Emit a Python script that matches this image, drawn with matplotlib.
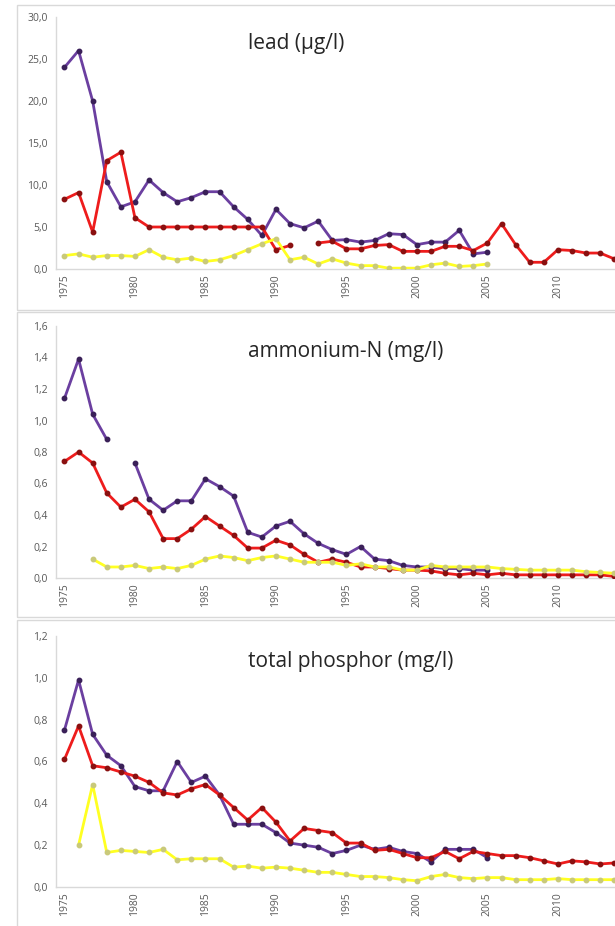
import matplotlib
matplotlib.use("Agg")
import matplotlib.pyplot as plt
from matplotlib.patches import Rectangle
from matplotlib.ticker import FuncFormatter
import numpy as np

nan = np.nan
years = np.arange(1975, 2015)

# lead (ug/l)
lead_purple = [24.0, 26.0, 20.0, 10.4, 7.4, 8.0, 10.6, 9.1, 8.0, 8.5,
               9.2, 9.2, 7.4, 5.9, 4.0, 7.1, 5.4, 4.9, 5.7, 3.4,
               3.5, 3.2, 3.4, 4.2, 4.1, 2.9, 3.2, 3.2, 4.6, 1.8,
               2.0, nan, nan, nan, nan, nan, nan, nan, nan, nan]
lead_red = [8.3, 9.1, 4.4, 12.9, 13.9, 6.1, 5.0, 5.0, 5.0, 5.0,
            5.0, 5.0, 5.0, 5.0, 5.0, 2.3, 2.8, nan, 3.1, 3.3,
            2.4, 2.4, 2.8, 2.9, 2.1, 2.1, 2.1, 2.7, 2.7, 2.2,
            3.1, 5.4, 2.9, 0.8, 0.8, 2.3, 2.2, 1.9, 1.9, 1.2]
lead_yellow = [1.6, 1.8, 1.4, 1.6, 1.6, 1.5, 2.3, 1.4, 1.1, 1.3,
               0.9, 1.1, 1.6, 2.3, 3.0, 3.6, 1.1, 1.4, 0.6, 1.2,
               0.7, 0.4, 0.4, 0.1, 0.1, 0.1, 0.5, 0.7, 0.3, 0.4,
               0.6, nan, nan, nan, nan, nan, nan, nan, nan, nan]

# ammonium-N (mg/l)
amm_purple = [1.14, 1.39, 1.04, 0.88, nan, 0.73, 0.50, 0.43, 0.49, 0.49,
              0.63, 0.58, 0.52, 0.29, 0.26, 0.33, 0.36, 0.28, 0.22, 0.18,
              0.15, 0.20, 0.12, 0.11, 0.08, 0.07, 0.07, 0.06, 0.06, 0.05,
              0.05, nan, nan, nan, nan, nan, nan, nan, nan, nan]
amm_red = [0.74, 0.80, 0.73, 0.54, 0.45, 0.50, 0.42, 0.25, 0.25, 0.31,
           0.39, 0.33, 0.27, 0.19, 0.19, 0.24, 0.21, 0.15, 0.10, 0.12,
           0.10, 0.07, 0.07, 0.06, 0.05, 0.05, 0.045, 0.03, 0.02, 0.03,
           0.02, 0.03, 0.02, 0.02, 0.02, 0.02, 0.02, 0.02, 0.02, 0.01]
amm_yellow = [nan, nan, 0.12, 0.07, 0.07, 0.08, 0.06, 0.07, 0.06, 0.08,
              0.12, 0.14, 0.13, 0.11, 0.13, 0.14, 0.12, 0.10, 0.10, 0.10,
              0.08, 0.09, 0.07, 0.07, 0.05, 0.05, 0.08, 0.07, 0.07, 0.07,
              0.07, 0.06, 0.055, 0.05, 0.05, 0.05, 0.05, 0.04, 0.035, 0.03]

# total phosphor (mg/l)
phos_purple = [0.75, 0.99, 0.73, 0.63, 0.58, 0.48, 0.46, 0.46, 0.60, 0.50,
               0.53, 0.44, 0.30, 0.30, 0.30, 0.26, 0.21, 0.20, 0.19, 0.16,
               0.175, 0.20, 0.18, 0.19, 0.17, 0.16, 0.12, 0.18, 0.18, 0.18,
               0.14, nan, nan, nan, nan, nan, nan, nan, nan, nan]
phos_red = [0.61, 0.77, 0.58, 0.57, 0.55, 0.53, 0.50, 0.45, 0.44, 0.47,
            0.49, 0.44, 0.38, 0.32, 0.38, 0.31, 0.22, 0.28, 0.27, 0.26,
            0.21, 0.21, 0.175, 0.18, 0.16, 0.14, 0.14, 0.17, 0.135, 0.17,
            0.16, 0.15, 0.15, 0.14, 0.125, 0.11, 0.125, 0.12, 0.11, 0.115]
phos_yellow = [nan, 0.20, 0.49, 0.165, 0.175, 0.17, 0.165, 0.18, 0.13, 0.135,
               0.135, 0.135, 0.095, 0.10, 0.09, 0.095, 0.09, 0.08, 0.07, 0.07,
               0.06, 0.05, 0.05, 0.045, 0.035, 0.03, 0.05, 0.06, 0.045, 0.04,
               0.045, 0.045, 0.035, 0.035, 0.035, 0.04, 0.035, 0.035, 0.035, 0.035]

titles = ["lead (\u00b5g/l)", "ammonium-N (mg/l)", "total phosphor (mg/l)"]
ytick_sets = [np.arange(0, 31, 5), np.arange(0, 1.61, 0.2), np.arange(0, 1.21, 0.2)]
xticks = np.arange(1975, 2011, 5)

plt.rcParams['font.family'] = ['Open Sans', 'DejaVu Sans']

W, H = 615, 926
fig = plt.figure(figsize=(W / 100, H / 100), dpi=100)

# panel frames (pixel coords: top, bottom) and axes (y of zero, y of max)
frames = [(5, 310), (312, 617), (620, 940)]
axes_px = [(269, 17), (578, 326), (887, 636)]
title_y = [43, 351, 662]
data = [(lead_purple, lead_red, lead_yellow),
        (amm_purple, amm_red, amm_yellow),
        (phos_purple, phos_red, phos_yellow)]

for i in range(3):
    top, bot = frames[i]
    fig.patches.append(Rectangle((17 / W, 1 - bot / H), 1.2, (bot - top) / H,
                                 transform=fig.transFigure, fill=False,
                                 edgecolor='#d9d9d9', linewidth=1.0))
    y0, y1 = axes_px[i]
    ax = fig.add_axes([56 / W, 1 - y0 / H, 1 - 56 / W, (y0 - y1) / H])
    purple, red, yellow = data[i]
    ax.plot(years, purple, color='#6b3fa0', lw=2.0, marker='o', ms=3.2,
            mfc='#3a2058', mec='#3a2058', zorder=3)
    ax.plot(years, red, color='#ee1c1c', lw=2.0, marker='o', ms=3.2,
            mfc='#8a1010', mec='#8a1010', zorder=4)
    ax.plot(years, yellow, color='#ffff22', lw=2.0, marker='o', ms=3.2,
            mfc='#c9c97a', mec='#c9c97a', zorder=5)

    yt = ytick_sets[i]
    ax.set_ylim(0, yt[-1])
    ax.set_yticks(yt)
    ax.yaxis.set_major_formatter(FuncFormatter(lambda v, p: f"{v:.1f}".replace('.', ',')))
    ax.set_xlim(1974.4, 2014.05)
    ax.set_xticks(xticks)
    ax.set_xticklabels([str(x) for x in xticks], rotation=90)
    ax.tick_params(axis='both', labelsize=7.5, colors='#595959', length=0, pad=6)
    ax.tick_params(axis='x', pad=4)
    for s in ['top', 'right']:
        ax.spines[s].set_visible(False)
    for s in ['left', 'bottom']:
        ax.spines[s].set_color('#d9d9d9')
        ax.spines[s].set_linewidth(1.0)
    ax.set_facecolor('none')

    fig.text(248 / W, 1 - title_y[i] / H, titles[i], fontsize=15,
             color='#262626', ha='left', va='center')

fig.savefig("out.png", dpi=100)
